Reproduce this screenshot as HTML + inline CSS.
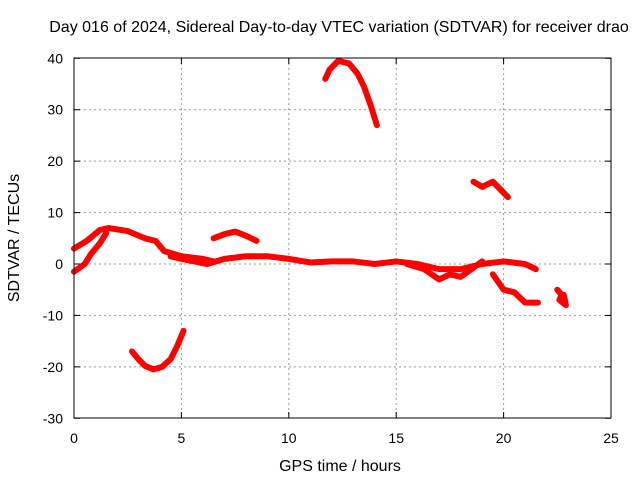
<!DOCTYPE html>
<html><head><meta charset="utf-8"><style>
body{margin:0;background:#fff}
svg{display:block;font-family:"Liberation Sans",sans-serif;font-size:14px}
</style></head><body>
<svg id="chart" width="640" height="480">
<text x="339" y="32" text-anchor="middle" font-size="16">Day 016 of 2024, Sidereal Day-to-day VTEC variation (SDTVAR) for receiver drao</text>
<text x="340" y="471" text-anchor="middle" font-size="16">GPS time / hours</text>
<text transform="translate(19,238) rotate(-90)" text-anchor="middle" font-size="16">SDTVAR / TECUs</text>
<g id="grid"></g><g id="marks"></g>
<rect x="74" y="58" width="537" height="360" fill="none" stroke="#000"/>
</svg>
<script>
const xTicks=[0,5,10,15,20,25];
const yTicks=[-30,-20,-10,0,10,20,30,40];
const trackUpper=[[0,3],[0.6,4.5],[1.2,6.6],[1.6,7],[2.5,6.4],[3.3,5],[3.8,4.5],[4.2,2.5],[5,1.5],[6,1],[6.5,0.5]];
const trackLower=[[0,-1.5],[0.5,0],[0.8,2],[1.2,4],[1.5,6]];
const trackMain=[[4.5,1.5],[5,1],[6.2,0],[7,1],[8,1.5],[9,1.5],[10,1],[11,0.3],[12,0.5],[13,0.5],[14,0],[15,0.5],[16,0],[17,-1],[18,-1],[19,0],[20,0.5],[21,0],[21.5,-1]];
const trackBranch=[[15.5,0],[16.3,-1],[17,-3],[17.5,-2],[18,-2.5],[18.5,-1],[19,0.5]];
const trackDrop=[[19.5,-2],[20,-5],[20.5,-5.5],[21,-7.5],[21.6,-7.5]];
const trackBlob=[[22.5,-5],[22.7,-6],[22.6,-7],[22.9,-8],[22.8,-6]];
const trackHump=[[6.5,5],[7,5.8],[7.5,6.3],[8,5.5],[8.5,4.5]];
const trackBowl=[[2.7,-17],[3,-18.5],[3.3,-19.8],[3.7,-20.5],[4.1,-20],[4.5,-18.5],[4.8,-16],[5.1,-13]];
const trackPeak=[[11.7,36],[11.9,37.8],[12.3,39.5],[12.8,39],[13.2,37],[13.5,34.5],[13.8,31],[14.1,27]];
const trackMid=[[18.6,16],[19,15],[19.5,16],[20.2,13]];
const tracks=[trackUpper,trackLower,trackMain,trackBranch,trackDrop,trackBlob,trackHump,trackBowl,trackPeak,trackMid];
const X=h=>74+h*537/25, Y=v=>264-v*360/70;
const NS="http://www.w3.org/2000/svg";
const grid=document.getElementById('grid'), marks=document.getElementById('marks'), svg=document.getElementById('chart');
xTicks.forEach(t=>{
 const x=X(t);
 if(t>0&&t<25){const l=document.createElementNS(NS,'line');
 
 
 l.setAttribute('x1',x);l.setAttribute('x2',x);l.setAttribute('y1',58);l.setAttribute('y2',418);l.setAttribute('stroke','#999');l.setAttribute('stroke-dasharray','2,3');grid.appendChild(l);}
 const tk=document.createElementNS(NS,'path');
 
 
 tk.setAttribute('d',`M${x},418v-6M${x},58v6`);tk.setAttribute('stroke','#000');grid.appendChild(tk);
 const s=document.createElementNS(NS,'text');
 
 
 s.setAttribute('x',x);s.setAttribute('y',443);s.setAttribute('text-anchor','middle');s.textContent=t;svg.appendChild(s);
});
yTicks.forEach(t=>{
 const y=Y(t);
 if(t>-30&&t<40){const l=document.createElementNS(NS,'line');
 
 
 l.setAttribute('x1',74);l.setAttribute('x2',611);l.setAttribute('y1',y);l.setAttribute('y2',y);l.setAttribute('stroke','#999');l.setAttribute('stroke-dasharray','2,3');grid.appendChild(l);}
 const tk=document.createElementNS(NS,'path');
 
 
 tk.setAttribute('d',`M74,${y}h6M611,${y}h-6`);tk.setAttribute('stroke','#000');grid.appendChild(tk);
 const s=document.createElementNS(NS,'text');
 
 
 s.setAttribute('x',63);s.setAttribute('y',y+5);s.setAttribute('text-anchor','end');s.textContent=t;svg.appendChild(s);
});
tracks.forEach(tr=>{
 const p=document.createElementNS(NS,'polyline');
 
 
 p.setAttribute('points',tr.map(d=>X(d[0])+','+Y(d[1])).join(' '));
 p.setAttribute('fill','none');p.setAttribute('stroke','#f00');p.setAttribute('stroke-width','6');p.setAttribute('stroke-linejoin','round');p.setAttribute('stroke-linecap','round');
 marks.appendChild(p);
});
</script>
</body></html>
